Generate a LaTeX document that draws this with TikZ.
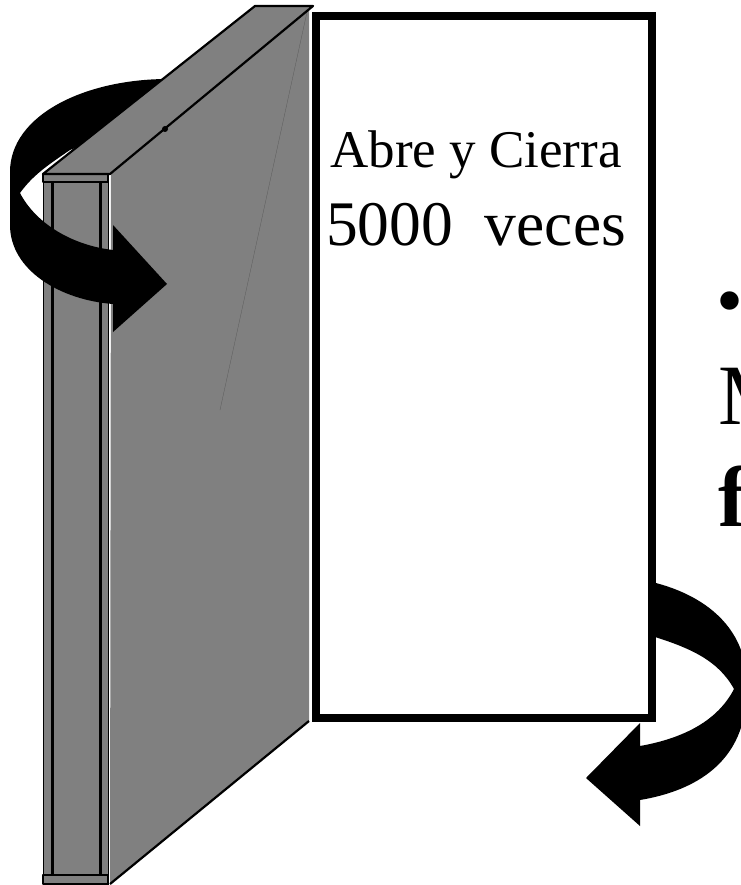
\documentclass[tikz,border=0pt]{standalone}
\usepackage{fontspec}
\setmainfont{Liberation Serif}
\usetikzlibrary{positioning}
\definecolor{doorgray}{HTML}{808080}
\tikzset{
  doorface/.style={fill=doorgray,draw=black,line width=2.2pt,line join=round},
  turnarrow/.style={fill=black,draw=none},
  doorlabel/.style={anchor=base,inner sep=0pt},
}

\begin{document}
\begin{tikzpicture}[x=1pt,y=-1pt]
      \useasboundingbox (0,0) rectangle (740,885);

      % front edge of the door
      \path (43,174) coordinate (edgeA); \path (108,174) coordinate (edgeB);
      \path (43,884) coordinate (edgeC); \path (108,884) coordinate (edgeD);
      \draw[fill=doorgray,draw=black,line width=.8pt] (edgeA) rectangle (edgeD);
      \foreach \x in {52,100}
      { \draw[line width=3pt] (\x,182) to (\x,875); }
      \draw[doorface,line width=1.4pt] (43,174) rectangle (108,182);
      \draw[doorface,line width=1.4pt] (43,875) rectangle (108,884);

      % big face of the door
      \path (111,174) coordinate (faceA); \path (309,8) coordinate (faceB);
      \path (309,721) coordinate (faceC); \path (110,884) coordinate (faceD);
      \fill[doorgray] (faceA) to (faceB) to (faceC) to (faceD) to cycle;
      \draw[line width=2.2pt] (faceC) to (faceD);
      \draw[line width=.3pt,black!30!doorgray] (307,12) to (220,410);

      % arrow at the top
      \fill[turnarrow] (168,79) .. controls (85,79) and (10,115) .. (10,172)
        to (10,225) .. controls (10,270) and (60,300) .. (113,304)
        to (113,332) to (167,284) to (113,225) to (113,250)
        .. controls (70,245) and (35,222) .. (20,193)
        .. controls (33,175) and (48,165) .. (70,150)
        to (168,110) to cycle;

      % top of the door
      \path (43,174) coordinate (topA); \path (255,6) coordinate (topB);
      \path (313,6) coordinate (topC); \path (110,174) coordinate (topD);
      \draw[doorface] (topA) to (topB) to (topC) to (topD) to cycle;
      \fill (165,129) circle (3pt);

      % white panel
      \draw[fill=white,line width=8pt,line join=miter] (316,16) rectangle (652,718);

      % arrow at the bottom
      \fill[turnarrow] (652,582) .. controls (705,595) and (738,625) .. (745,665)
        to (745,710) .. controls (738,760) and (700,790) .. (640,800)
        to (640,826) to (586,778) to (640,723) to (640,746)
        .. controls (685,738) and (718,720) .. (734,689)
        .. controls (718,660) and (690,648) .. (652,636) to cycle;

      \node[doorlabel,font=\fontsize{53}{53}\selectfont] (lineA) at (476,168) {Abre y Cierra};
      \node[doorlabel,font=\fontsize{63.5}{63.5}\selectfont] (lineB) at (476,245) {5000\ \ veces};

      % text that runs off the page
      \node[anchor=base west,inner sep=0pt,font=\fontsize{77}{77}\selectfont] (bulletmark) at (716.5,326) {•};
      \node[anchor=base west,inner sep=0pt,font=\fontsize{86}{86}\selectfont] (lineC) at (718,424) {M};
      \node[anchor=base west,inner sep=0pt,font=\fontsize{86}{86}\selectfont\bfseries] (lineD) at (718,526) {f};

    \end{tikzpicture}
\end{document}
